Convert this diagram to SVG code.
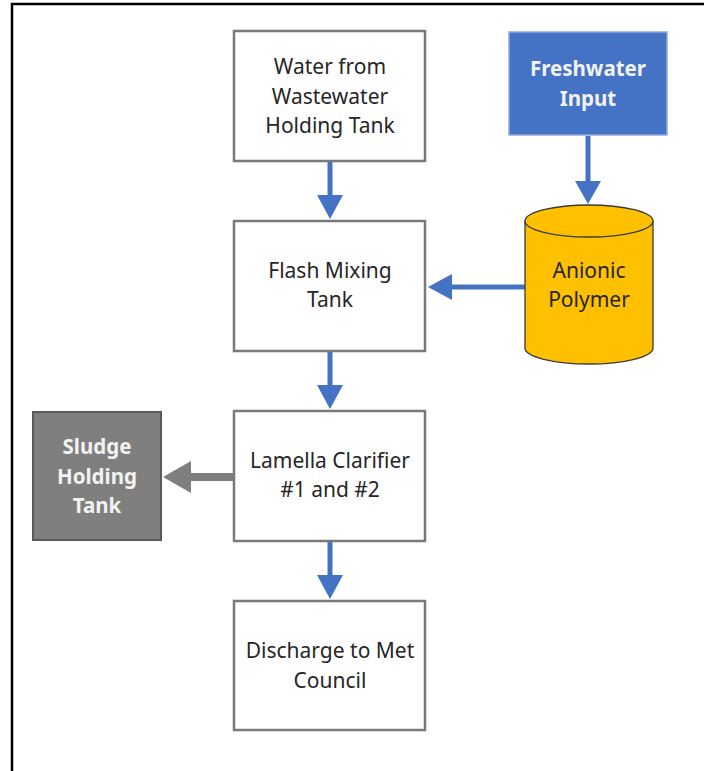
<svg xmlns="http://www.w3.org/2000/svg" width="704" height="771" viewBox="0 0 704 771">
<style>
.box{fill:#fff;stroke:#7a7a7a;stroke-width:2.5}
.t{font-family:"Noto Sans","Open Sans",sans-serif;font-size:21px;fill:#262626;text-anchor:middle}
.tw{font-family:"Noto Sans","Open Sans",sans-serif;font-size:20.5px;font-weight:bold;fill:#f2f2f2;text-anchor:middle}
.blue{stroke:#4472c4;stroke-width:5;fill:none}
.bh{fill:#4472c4}
</style>
<rect x="0" y="0" width="704" height="771" fill="#fff"/>
<path d="M12 771 V4 H704" fill="none" stroke="#000" stroke-width="2.5"/>
<g id="connectors">
<line class="blue" x1="330" y1="162" x2="330" y2="197"/><polygon class="bh" points="317,195 343,195 330,219"/>
<line class="blue" x1="330" y1="352" x2="330" y2="387"/><polygon class="bh" points="317,385 343,385 330,409"/>
<line class="blue" x1="330" y1="542" x2="330" y2="577"/><polygon class="bh" points="317,575 343,575 330,599"/>
<line class="blue" x1="588" y1="136" x2="588" y2="184"/><polygon class="bh" points="575,181 601,181 588,204"/>
<line class="blue" x1="526" y1="287" x2="450" y2="287"/><polygon class="bh" points="452,274 452,300 428,287"/>
<line x1="237" y1="477" x2="188" y2="477" stroke="#7f7f7f" stroke-width="8" stroke-linecap="round"/><polygon fill="#7f7f7f" points="191,461 191,493 163,477"/>
</g>
<g id="water"><rect class="box" x="234" y="31" width="191" height="130"/>
<text class="t" x="330" y="74">Water from</text><text class="t" x="330" y="104">Wastewater</text><text class="t" x="330" y="133">Holding Tank</text></g>
<g id="freshwater"><rect x="509" y="32" width="158" height="103" fill="#4472c4" stroke="#8faadc" stroke-width="1.5"/>
<text class="tw" x="588" y="76">Freshwater</text><text class="tw" x="588" y="106">Input</text></g>
<g id="flash"><rect class="box" x="234" y="221" width="191" height="130"/>
<text class="t" x="330" y="278">Flash Mixing</text><text class="t" x="330" y="307">Tank</text></g>
<g id="polymer"><path d="M525 221 V348 A64 16 0 0 0 653 348 V221" fill="#ffc000" stroke="#3a3a3a" stroke-width="1.3"/>
<ellipse cx="589" cy="221" rx="64" ry="16" fill="#ffc000" stroke="#3a3a3a" stroke-width="1.3"/>
<text class="t" x="589" y="278">Anionic</text><text class="t" x="589" y="307">Polymer</text></g>
<g id="lamella"><rect class="box" x="234" y="411" width="191" height="130"/>
<text class="t" x="330" y="468">Lamella Clarifier</text><text class="t" x="330" y="497">#1 and #2</text></g>
<g id="sludge"><rect x="33" y="412" width="128" height="128" fill="#7f7f7f" stroke="#595959" stroke-width="2"/>
<text class="tw" x="97" y="454">Sludge</text><text class="tw" x="97" y="484">Holding</text><text class="tw" x="97" y="513">Tank</text></g>
<g id="discharge"><rect class="box" x="234" y="601" width="191" height="129"/>
<text class="t" x="330" y="658">Discharge to Met</text><text class="t" x="330" y="688">Council</text></g>
</svg>
